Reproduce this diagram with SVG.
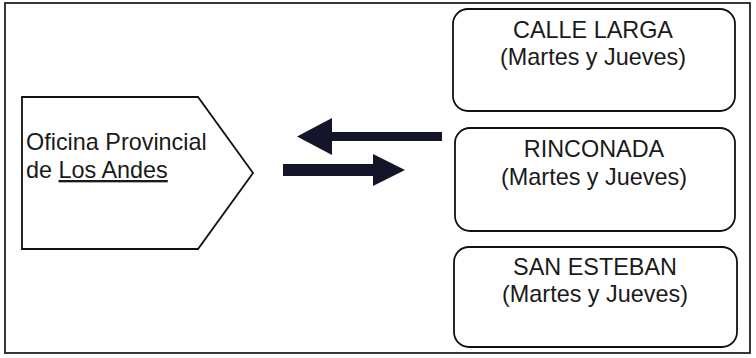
<svg xmlns="http://www.w3.org/2000/svg" width="756" height="358" viewBox="0 0 756 358">
  <style>
    .frame { fill: none; stroke: #222; stroke-width: 1.8; }
    .shape { fill: #fff; stroke: #111; stroke-width: 1.8; }
    .lbl { font-family: "Liberation Sans", Arial, sans-serif; font-size: 23.4px; fill: #1a1a1a; }
    .mid { text-anchor: middle; }
    .arrow { fill: #15152a; }
  </style>
  <rect width="756" height="358" fill="#fff"/>
  <rect class="frame" x="5" y="3" width="745" height="350"/>

  <g id="oficina">
    <path class="shape" d="M22 97 H198 L253 173 L198 249 H22 Z"/>
    <text class="lbl" x="26" y="150">Oficina Provincial</text>
    <text class="lbl" x="26" y="178">de <tspan text-decoration="underline">Los Andes</tspan></text>
  </g>

  <g id="calle-larga">
    <rect class="shape" x="453" y="9" width="282" height="102" rx="15"/>
    <text class="lbl mid" x="593" y="38">CALLE LARGA</text>
    <text class="lbl mid" x="593" y="65">(Martes y Jueves)</text>
  </g>

  <g id="rinconada">
    <rect class="shape" x="455" y="128" width="280" height="103" rx="15"/>
    <text class="lbl mid" x="594" y="157">RINCONADA</text>
    <text class="lbl mid" x="594" y="185">(Martes y Jueves)</text>
  </g>

  <g id="san-esteban">
    <rect class="shape" x="454" y="247" width="283" height="100" rx="15"/>
    <text class="lbl mid" x="595" y="275">SAN ESTEBAN</text>
    <text class="lbl mid" x="595" y="302">(Martes y Jueves)</text>
  </g>

  <g id="connectors">
    <path class="arrow" d="M442 132 H332 V118 L297 136.5 L332 155 V141 H442 Z"/>
    <path class="arrow" d="M283 164 H373 V154 L405 170 L373 186 V176 H283 Z"/>
  </g>
</svg>
